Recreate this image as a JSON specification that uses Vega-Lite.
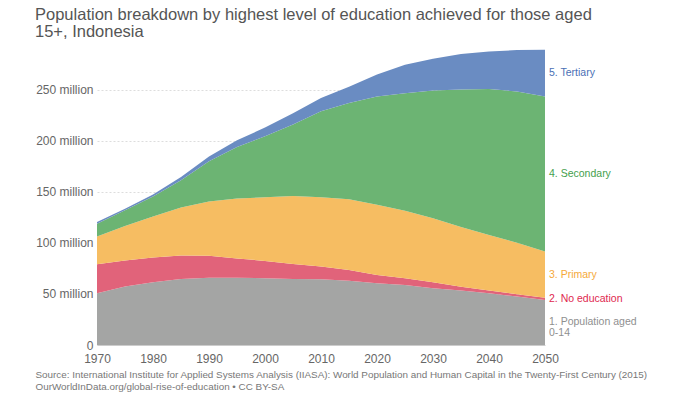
{
  "$schema": "https://vega.github.io/schema/vega-lite/v6.json",
  "width": 448,
  "height": 296,
  "autosize": {"type": "none"},
  "padding": {"left": 97, "top": 49, "right": 155, "bottom": 48},
  "background": "white",
  "config": {
    "font": "Liberation Sans",
    "view": {"stroke": null}
  },
  "title": {
    "text": ["Population breakdown by highest level of education achieved for those aged", "15+, Indonesia"],
    "anchor": "start",
    "frame": "group",
    "dx": -62,
    "offset": 9,
    "fontSize": 16.5,
    "fontWeight": "normal",
    "color": "#555555",
    "lineHeight": 17
  },
  "data": {
    "values": [
      {"year": 1970, "series": "1. Population aged\n0-14", "value": 50.7},
      {"year": 1970, "series": "2. No education", "value": 28.4},
      {"year": 1970, "series": "3. Primary", "value": 27.1},
      {"year": 1970, "series": "4. Secondary", "value": 12.6},
      {"year": 1970, "series": "5. Tertiary", "value": 1.7},
      {"year": 1975, "series": "1. Population aged\n0-14", "value": 57.2},
      {"year": 1975, "series": "2. No education", "value": 25.5},
      {"year": 1975, "series": "3. Primary", "value": 33.8},
      {"year": 1975, "series": "4. Secondary", "value": 15.5},
      {"year": 1975, "series": "5. Tertiary", "value": 1.5},
      {"year": 1980, "series": "1. Population aged\n0-14", "value": 61.5},
      {"year": 1980, "series": "2. No education", "value": 24.3},
      {"year": 1980, "series": "3. Primary", "value": 40.2},
      {"year": 1980, "series": "4. Secondary", "value": 19.5},
      {"year": 1980, "series": "5. Tertiary", "value": 2.0},
      {"year": 1985, "series": "1. Population aged\n0-14", "value": 64.6},
      {"year": 1985, "series": "2. No education", "value": 23.0},
      {"year": 1985, "series": "3. Primary", "value": 47.0},
      {"year": 1985, "series": "4. Secondary", "value": 26.9},
      {"year": 1985, "series": "5. Tertiary", "value": 3.0},
      {"year": 1990, "series": "1. Population aged\n0-14", "value": 66.0},
      {"year": 1990, "series": "2. No education", "value": 21.5},
      {"year": 1990, "series": "3. Primary", "value": 53.0},
      {"year": 1990, "series": "4. Secondary", "value": 39.5},
      {"year": 1990, "series": "5. Tertiary", "value": 4.6},
      {"year": 1995, "series": "1. Population aged\n0-14", "value": 65.8},
      {"year": 1995, "series": "2. No education", "value": 19.0},
      {"year": 1995, "series": "3. Primary", "value": 58.7},
      {"year": 1995, "series": "4. Secondary", "value": 50.5},
      {"year": 1995, "series": "5. Tertiary", "value": 6.5},
      {"year": 2000, "series": "1. Population aged\n0-14", "value": 65.4},
      {"year": 2000, "series": "2. No education", "value": 17.0},
      {"year": 2000, "series": "3. Primary", "value": 62.4},
      {"year": 2000, "series": "4. Secondary", "value": 59.7},
      {"year": 2000, "series": "5. Tertiary", "value": 8.5},
      {"year": 2005, "series": "1. Population aged\n0-14", "value": 64.7},
      {"year": 2005, "series": "2. No education", "value": 14.7},
      {"year": 2005, "series": "3. Primary", "value": 66.6},
      {"year": 2005, "series": "4. Secondary", "value": 70.0},
      {"year": 2005, "series": "5. Tertiary", "value": 11.0},
      {"year": 2010, "series": "1. Population aged\n0-14", "value": 64.4},
      {"year": 2010, "series": "2. No education", "value": 12.4},
      {"year": 2010, "series": "3. Primary", "value": 68.0},
      {"year": 2010, "series": "4. Secondary", "value": 84.2},
      {"year": 2010, "series": "5. Tertiary", "value": 13.0},
      {"year": 2015, "series": "1. Population aged\n0-14", "value": 63.0},
      {"year": 2015, "series": "2. No education", "value": 10.5},
      {"year": 2015, "series": "3. Primary", "value": 69.3},
      {"year": 2015, "series": "4. Secondary", "value": 94.2},
      {"year": 2015, "series": "5. Tertiary", "value": 16.0},
      {"year": 2020, "series": "1. Population aged\n0-14", "value": 60.5},
      {"year": 2020, "series": "2. No education", "value": 8.1},
      {"year": 2020, "series": "3. Primary", "value": 68.7},
      {"year": 2020, "series": "4. Secondary", "value": 106.2},
      {"year": 2020, "series": "5. Tertiary", "value": 21.5},
      {"year": 2025, "series": "1. Population aged\n0-14", "value": 58.8},
      {"year": 2025, "series": "2. No education", "value": 6.7},
      {"year": 2025, "series": "3. Primary", "value": 66.0},
      {"year": 2025, "series": "4. Secondary", "value": 115.2},
      {"year": 2025, "series": "5. Tertiary", "value": 27.8},
      {"year": 2030, "series": "1. Population aged\n0-14", "value": 55.6},
      {"year": 2030, "series": "2. No education", "value": 5.9},
      {"year": 2030, "series": "3. Primary", "value": 62.7},
      {"year": 2030, "series": "4. Secondary", "value": 125.1},
      {"year": 2030, "series": "5. Tertiary", "value": 31.2},
      {"year": 2035, "series": "1. Population aged\n0-14", "value": 53.3},
      {"year": 2035, "series": "2. No education", "value": 3.7},
      {"year": 2035, "series": "3. Primary", "value": 58.5},
      {"year": 2035, "series": "4. Secondary", "value": 134.7},
      {"year": 2035, "series": "5. Tertiary", "value": 34.8},
      {"year": 2040, "series": "1. Population aged\n0-14", "value": 50.7},
      {"year": 2040, "series": "2. No education", "value": 2.6},
      {"year": 2040, "series": "3. Primary", "value": 54.5},
      {"year": 2040, "series": "4. Secondary", "value": 142.9},
      {"year": 2040, "series": "5. Tertiary", "value": 36.8},
      {"year": 2045, "series": "1. Population aged\n0-14", "value": 47.4},
      {"year": 2045, "series": "2. No education", "value": 2.3},
      {"year": 2045, "series": "3. Primary", "value": 50.6},
      {"year": 2045, "series": "4. Secondary", "value": 148.1},
      {"year": 2045, "series": "5. Tertiary", "value": 40.5},
      {"year": 2050, "series": "1. Population aged\n0-14", "value": 44.1},
      {"year": 2050, "series": "2. No education", "value": 2.3},
      {"year": 2050, "series": "3. Primary", "value": 45.1},
      {"year": 2050, "series": "4. Secondary", "value": 151.9},
      {"year": 2050, "series": "5. Tertiary", "value": 45.8}
    ]
  },
  "layer": [
    {
      "mark": {"type": "area", "interpolate": "linear", "opacity": 1},
      "encoding": {
        "x": {
          "field": "year",
          "type": "quantitative",
          "scale": {"domain": [1970, 2050], "nice": false, "zero": false},
          "axis": {
            "values": [1970, 1980, 1990, 2000, 2010, 2020, 2030, 2040, 2050],
            "format": "d",
            "labelFontSize": 12,
            "labelColor": "#666666",
            "labelPadding": 8,
            "labelFlush": false,
            "labelOverlap": false,
            "ticks": false,
            "domain": true,
            "domainColor": "#cccccc",
            "grid": false,
            "title": ["Source: International Institute for Applied Systems Analysis (IIASA): World Population and Human Capital in the Twenty-First Century (2015)", "OurWorldInData.org/global-rise-of-education • CC BY-SA"],
            "titleFontSize": 9.9,
            "titleFontWeight": "normal",
            "titleColor": "#777777",
            "titleAnchor": "start",
            "titleAlign": "left",
            "titleBaseline": "top",
            "titleX": -62,
            "titleY": 24,
            "titleLineHeight": 12
          }
        },
        "y": {
          "field": "value",
          "type": "quantitative",
          "stack": "zero",
          "scale": {"domain": [0, 290], "nice": false},
          "axis": {
            "values": [0, 50, 100, 150, 200, 250],
            "labelExpr": "datum.value == 0 ? '0' : datum.value + ' million'",
            "labelFontSize": 12,
            "labelColor": "#666666",
            "labelPadding": 4,
            "ticks": false,
            "domain": false,
            "grid": true,
            "gridColor": "#dddddd",
            "gridDash": [2, 2],
            "title": null
          }
        },
        "color": {
          "field": "series",
          "type": "nominal",
          "sort": ["1. Population aged\n0-14", "2. No education", "3. Primary", "4. Secondary", "5. Tertiary"],
          "scale": {
            "domain": ["1. Population aged\n0-14", "2. No education", "3. Primary", "4. Secondary", "5. Tertiary"],
            "range": ["#a4a5a4", "#e1637a", "#f6bd62", "#6cb473", "#6a8cc2"]
          },
          "legend": null
        },
        "order": {"field": "series", "sort": "ascending"}
      }
    },
    {
      "transform": [{"filter": "datum.year == 2050"}],
      "mark": {"type": "text", "align": "left", "baseline": "middle", "dx": 4, "fontSize": 10.5, "lineBreak": "\n", "lineHeight": 11},
      "encoding": {
        "x": {"field": "year", "type": "quantitative"},
        "y": {"field": "value", "type": "quantitative", "stack": "zero", "bandPosition": 0.5},
        "text": {"field": "series", "type": "nominal"},
        "order": {"field": "series", "sort": "ascending"},
        "color": {
          "field": "series",
          "type": "nominal",
          "scale": {
            "domain": ["1. Population aged\n0-14", "2. No education", "3. Primary", "4. Secondary", "5. Tertiary"],
            "range": ["#8f8f8f", "#e0284f", "#f5a93a", "#44a04d", "#4a70b5"]
          },
          "legend": null
        }
      }
    }
  ],
  "resolve": {"scale": {"color": "independent"}}
}
